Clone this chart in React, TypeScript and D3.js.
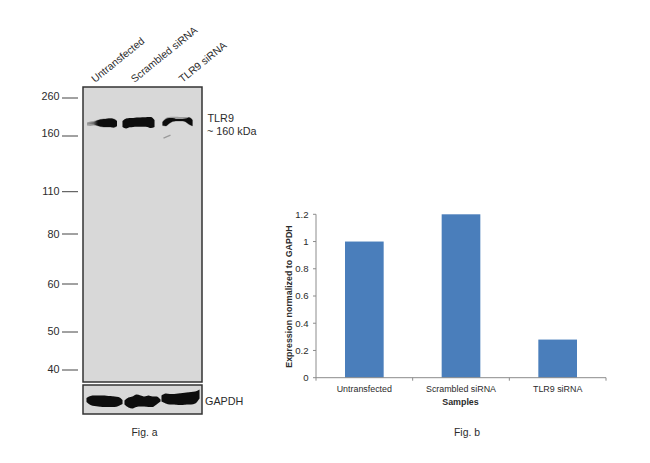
import React from "react";
import * as d3 from "d3";

const laneNames = ["Untransfected", "Scrambled siRNA", "TLR9 siRNA"];
const markerWeights = [260, 160, 110, 80, 60, 50, 40];
const tlr9ApparentKda = 194;
const sampleNames = ["Untransfected", "Scrambled siRNA", "TLR9 siRNA"];
const expression = [1, 1.2, 0.28];
const expressionTicks = [0, 0.2, 0.4, 0.6, 0.8, 1, 1.2];

// Band outlines: offsets from band centre sampled across each lane
const tlr9Upper = [
  [0, -0.5, -1, -2.5, -3.5, -4, -4.3, -4.5, -4.2, -2],
  [-2, -4.5, -5, -5.2, -5.5, -5.6, -5.8, -6.2, -6, -3],
  [-1, -4, -5, -5, -4.2, -4, -4, -4.5, -5.5, -3],
];
const tlr9Lower = [
  [1, 1, 1.5, 2.5, 3.5, 3.8, 3.8, 3.8, 4.5, 3],
  [4, 5.3, 4.2, 3.8, 3.6, 3.6, 3.6, 3.8, 5, 4],
  [2.5, 3, 0.5, -1.5, -2.2, -2.2, -2, -1, 1.5, 3],
];
const tlr9HaloUpper = [
  [-0.5, -1.5, -2, -3, -4, -4.5, -4.8, -5, -4.7, -2.5],
  [-2.5, -5, -5.5, -5.7, -6, -6.1, -6.3, -6.7, -6.5, -3.5],
  [-1.5, -5, -6, -6.3, -6.4, -6.2, -6, -6, -6, -3.5],
];
const tlr9HaloLower = [
  [2.5, 2.8, 2.5, 3, 4, 4.3, 4.3, 4.3, 5, 3.5],
  [4.5, 5.8, 4.7, 4.3, 4.1, 4.1, 4.1, 4.3, 5.5, 4.5],
  [3, 3.5, 1, -1, -1.7, -1.7, -1.5, -0.5, 2, 3.5],
];
const gapdhUpper = [
  [-3, -5, -5.5, -5.5, -5.5, -5.3, -5, -4.5, -4, -1],
  [-1, -4, -5, -7, -6, -5, -6, -5, -5, -2],
  [-4, -6, -5.5, -5.5, -6, -6.5, -7, -7.5, -8, -10],
];
const gapdhLower = [
  [1, 4, 5, 5.5, 6, 6, 6, 6, 5, 3],
  [3, 6, 7, 5.5, 5, 5, 5.5, 5.5, 3, 0],
  [2, 4, 5, 5, 5.5, 5.5, 5, 5, 4, -1],
];

const W = 650;
const H = 463;
const font = "'Liberation Sans', Arial, sans-serif";
const ink = "#2b2b2b";
const blotFill = "#d8d8d8";
const frame = "#333333";

const blotX0 = 83;
const blotX1 = 202;
const laneX = d3.scaleLinear().domain([0, 1, 2]).range([102, 138.5, 177.5]);
const laneHalfWidth = d3.scaleLinear().domain([0, 1, 2]).range([15, 16, 15]);
const gapdhCenter = d3.scaleLinear().domain([0, 1, 2]).range([104.5, 142.5, 180.5]);
const gapdhHalf = d3.scaleLinear().domain([0, 1, 2]).range([18, 18, 19]);
const gapdhMid = d3.scaleLinear().domain([0, 1, 2]).range([401, 401.5, 399.5]);

const mwY = d3
  .scaleLinear()
  .domain([260, 160, 110, 80, 60, 50, 40])
  .range([98, 136, 191.7, 234, 284, 332, 370]);
const mwLabelY = d3
  .scaleLinear()
  .domain([260, 160, 110, 80, 60, 50, 40])
  .range([96.7, 133.5, 191, 234, 284, 331, 369]);

const x = d3.scaleBand<string>().domain(sampleNames).range([316, 606]);
const y = d3.scaleLinear().domain([0, 1.2]).range([377.7, 214.3]);
const barW = x.bandwidth() * 0.4;

function bandPath(upper: number[], lower: number[], cx: number, half: number, mid: number) {
  const t = d3.scaleLinear().domain([0, upper.length - 1]).range([cx - half, cx + half]);
  const shape = d3
    .area<number>()
    .x((_, i) => t(i))
    .y0((_, i) => mid + lower[i])
    .y1((_, i) => mid + upper[i])
    .curve(d3.curveMonotoneX);
  return shape(upper) || "";
}

export default function App() {
  const tlrMid = mwY(tlr9ApparentKda);
  return (
    <svg
      width={W}
      height={H}
      viewBox={`0 0 ${W} ${H}`}
      style={{ position: "absolute", left: 0, top: 0, background: "#fff" }}
      fontFamily={font}
    >
      <defs>
        <filter id="soft" x="-20%" y="-60%" width="140%" height="220%">
          <feGaussianBlur stdDeviation="0.6" />
        </filter>
        <linearGradient id="fade0" x1="0" x2="1" y1="0" y2="0">
          <stop offset="0" stopColor="#9a9a9a" />
          <stop offset="0.22" stopColor="#6a6a6a" />
          <stop offset="0.36" stopColor="#0b0b0b" />
          <stop offset="1" stopColor="#0b0b0b" />
        </linearGradient>
      </defs>

      {/* lane labels */}
      {laneNames.map((n, i) => (
        <text
          key={n}
          transform={`translate(${[95, 134.5, 182.5][i]},${[83, 83, 83][i]}) rotate(-39)`}
          fontSize={10.4}
          fill={ink}
        >
          {n}
        </text>
      ))}

      {/* main blot */}
      <rect
        x={blotX0}
        y={87}
        width={blotX1 - blotX0}
        height={295}
        fill={blotFill}
        stroke={frame}
        strokeWidth={1.5}
      />
      {laneNames.map((n, i) => (
        <path
          key={n + "halo"}
          d={bandPath(tlr9HaloUpper[i], tlr9HaloLower[i], laneX(i), laneHalfWidth(i), tlrMid)}
          fill="#8a8a8a"
          opacity={i === 1 ? 0 : 0.75}
          filter="url(#soft)"
        />
      ))}
      {laneNames.map((n, i) => (
        <path
          key={n}
          d={bandPath(tlr9Upper[i], tlr9Lower[i], laneX(i), laneHalfWidth(i), tlrMid)}
          fill={i === 0 ? "url(#fade0)" : "#0b0b0b"}
          filter="url(#soft)"
        />
      ))}
      {/* faint non-specific band in the knockdown lane */}
      <line
        x1={laneX(2) - 14}
        x2={laneX(2) - 7}
        y1={tlrMid + 15}
        y2={tlrMid + 12}
        stroke="#9a9a9a"
        strokeWidth={1.3}
        filter="url(#soft)"
      />

      {/* marker ticks */}
      {markerWeights.map((m) => (
        <g key={m}>
          <line x1={62} x2={78} y1={mwY(m)} y2={mwY(m)} stroke="#444" strokeWidth={1} />
          <text
            x={59.5}
            y={mwLabelY(m)}
            dy="0.35em"
            textAnchor="end"
            fontSize={10.8}
            fill={ink}
          >
            {m}
          </text>
        </g>
      ))}

      <text x={207.5} y={122} fontSize={10.8} fill={ink}>
        TLR9
      </text>
      <text x={207} y={135} fontSize={10.8} fill={ink}>
        ~ 160 kDa
      </text>

      {/* GAPDH panel */}
      <rect
        x={blotX0}
        y={385}
        width={blotX1 - blotX0}
        height={29}
        fill={blotFill}
        stroke={frame}
        strokeWidth={1.5}
      />
      {laneNames.map((n, i) => (
        <path
          key={n}
          d={bandPath(gapdhUpper[i], gapdhLower[i], gapdhCenter(i), gapdhHalf(i), gapdhMid(i))}
          fill="#0a0a0a"
          filter="url(#soft)"
        />
      ))}
      <text x={205} y={405} fontSize={10.8} fill={ink}>
        GAPDH
      </text>
      <text x={144.5} y={436} textAnchor="middle" fontSize={10.4} fill={ink}>
        Fig. a
      </text>

      {/* bar chart */}
      {sampleNames.map((n, i) => (
        <rect
          key={n}
          x={(x(n) as number) + (x.bandwidth() - barW) / 2}
          y={y(expression[i])}
          width={barW}
          height={y(0) - y(expression[i])}
          fill="#4a7ebb"
        />
      ))}
      <line x1={316} x2={316} y1={y(1.2)} y2={y(0)} stroke="#8c8c8c" strokeWidth={1} />
      <line x1={316} x2={606} y1={y(0)} y2={y(0)} stroke="#8c8c8c" strokeWidth={1} />
      {expressionTicks.map((t) => (
        <g key={t}>
          <line x1={313} x2={316} y1={y(t)} y2={y(t)} stroke="#8c8c8c" strokeWidth={1} />
          <text x={308.5} y={y(t)} dy="0.35em" textAnchor="end" fontSize={9.6} fill={ink}>
            {t}
          </text>
        </g>
      ))}
      {[...sampleNames.map((n) => x(n) as number), 606].map((v) => (
        <line key={v} x1={v} x2={v} y1={y(0)} y2={y(0) + 3} stroke="#8c8c8c" strokeWidth={1} />
      ))}
      {sampleNames.map((n) => (
        <text
          key={n}
          x={(x(n) as number) + x.bandwidth() / 2}
          y={391.5}
          textAnchor="middle"
          fontSize={8.9}
          fill={ink}
        >
          {n}
        </text>
      ))}
      <text
        transform="translate(292,296.5) rotate(-90)"
        textAnchor="middle"
        fontSize={8.9}
        fontWeight="bold"
        fill={ink}
      >
        Expression normalized to GAPDH
      </text>
      <text x={460.5} y={404.5} textAnchor="middle" fontSize={8.9} fontWeight="bold" fill={ink}>
        Samples
      </text>
      <text x={467} y={436} textAnchor="middle" fontSize={10.4} fill={ink}>
        Fig. b
      </text>
    </svg>
  );
}
